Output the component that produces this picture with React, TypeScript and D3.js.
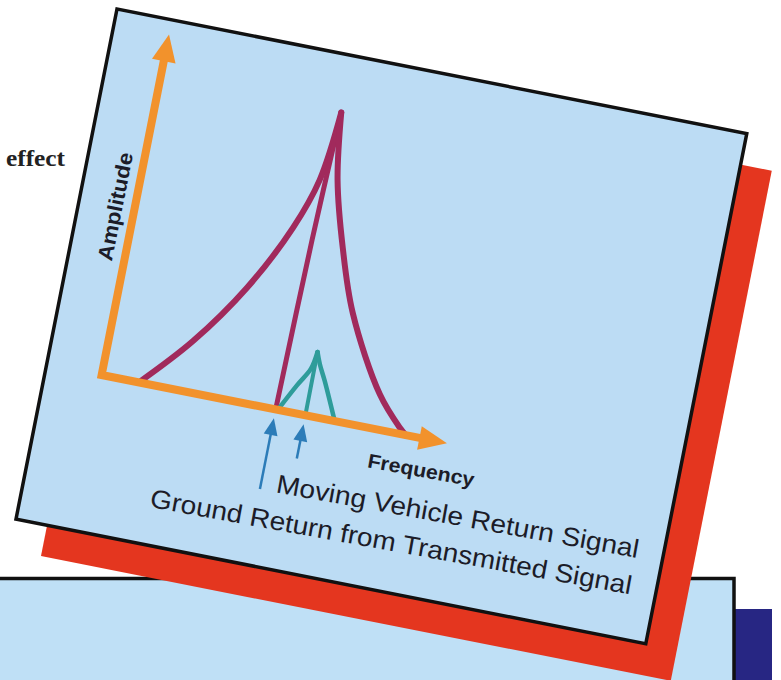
import * as d3 from "d3";

type Pt = [number, number];

// frequency / amplitude pairs (arbitrary 0..10 units)
const groundLeft: Pt[] = [[1.08, 0], [2.36, 1.47], [3.57, 3.28], [4.52, 5.23], [5.0, 6.73], [5.23, 8.76]];
const groundCentre: Pt[] = [[5.23, 8.76], [5.12, 5.0], [5.04, 0]];
const groundRight: Pt[] = [[5.23, 8.76], [5.5, 6.83], [6.02, 4.94], [6.66, 3.15], [7.86, 1.01], [8.61, 0.17], [8.81, 0]];

const vehicleLeft: Pt[] = [[5.1, 0], [5.5, 0.8], [5.8, 1.35], [5.89, 1.86]];
const vehicleCentre: Pt[] = [[5.89, 1.86], [5.9, 0]];
const vehicleRight: Pt[] = [[5.89, 1.86], [6.02, 1.53], [6.25, 1.08], [6.75, 0]];

// ground return and moving vehicle frequencies marked by the blue arrows
const markerFreqs = [5.04, 5.9];
const markerLabels = ["Ground Return from Transmitted Signal", "Moving Vehicle Return Signal"];

const axisLabels = { x: "Frequency", y: "Amplitude" };

const W = 781;
const H = 680;
const PANEL_W = 642;
const PANEL_H = 520;
const TILT = 11.2;

const ORANGE = "#f2922c";
const PURPLE = "#a12a5c";
const TEAL = "#2e9c9a";
const BLUE = "#2c7cb8";
const SKY = "#bcdcf4";
const INK = "#1c1c28";

export default function App() {
  const x = d3.scaleLinear().domain([0, 10]).range([56, 408]);
  const y = d3.scaleLinear().domain([0, 10]).range([362, 15]);

  const line = d3
    .line<Pt>()
    .x(d => x(d[0]))
    .y(d => y(d[1]))
    .curve(d3.curveCatmullRom.alpha(0.5));

  const x0 = x(0), y0 = y(0), xEnd = x(10), yEnd = y(10);
  const tipV = y0 + 9;
  const tails = [72, 35];

  return (
    <svg
      width={W}
      height={H}
      style={{ position: "absolute", left: 0, top: 0, background: "#fff" }}
    >
      {/* back cards */}
      <rect x={730} y={609} width={42} height={80} fill="#272683" />
      <rect x={-10} y={578.5} width={744} height={120} fill="#bfe0f6" stroke="#111" strokeWidth={3.5} />
      <g transform={`translate(${117 + 25},${9 + 37}) rotate(${TILT})`}>
        <rect width={PANEL_W} height={PANEL_H} fill="#e4361f" />
      </g>

      <text
        x={6}
        y={166}
        fontFamily="'Liberation Serif', 'DejaVu Serif', serif"
        fontWeight="bold"
        fontSize={24}
        textLength={59}
        lengthAdjust="spacingAndGlyphs"
        fill="#222"
      >
        effect
      </text>

      {/* main card */}
      <g transform={`translate(117,9) rotate(${TILT})`}>
        <rect width={PANEL_W} height={PANEL_H} fill={SKY} stroke="#111" strokeWidth={3.5} />

        <g fill="none" strokeLinecap="round" strokeLinejoin="round">
          <path d={line(groundLeft) ?? ""} stroke={PURPLE} strokeWidth={6} />
          <path d={line(groundCentre) ?? ""} stroke={PURPLE} strokeWidth={5} />
          <path d={line(groundRight) ?? ""} stroke={PURPLE} strokeWidth={6} />
          <path d={line(vehicleLeft) ?? ""} stroke={TEAL} strokeWidth={4.5} />
          <path d={line(vehicleCentre) ?? ""} stroke={TEAL} strokeWidth={4} />
          <path d={line(vehicleRight) ?? ""} stroke={TEAL} strokeWidth={4.5} />
        </g>

        {/* axes */}
        <path
          d={`M${x0},${yEnd + 24}L${x0},${y0}L${xEnd - 24},${y0}`}
          fill="none"
          stroke={ORANGE}
          strokeWidth={8}
          strokeLinejoin="miter"
        />
        <polygon
          points={`${x0},${yEnd} ${x0 - 12},${yEnd + 27} ${x0 + 12},${yEnd + 27}`}
          fill={ORANGE}
        />
        <polygon
          points={`${xEnd},${y0} ${xEnd - 28},${y0 - 12} ${xEnd - 28},${y0 + 12}`}
          fill={ORANGE}
        />

        {/* markers */}
        {markerFreqs.map((f, i) => (
          <g key={f}>
            <line x1={x(f)} x2={x(f)} y1={tipV + 14} y2={tipV + tails[i]} stroke={BLUE} strokeWidth={2.5} />
            <polygon
              points={`${x(f)},${tipV} ${x(f) - 7},${tipV + 17} ${x(f) + 7},${tipV + 17}`}
              fill={BLUE}
            />
          </g>
        ))}

        <text
          transform={`translate(44,194) rotate(-90)`}
          textAnchor="middle"
          fontFamily="'Liberation Sans', Arial, sans-serif"
          fontWeight="bold"
          fontSize={21}
          textLength={110}
          lengthAdjust="spacingAndGlyphs"
          fill={INK}
        >
          {axisLabels.y}
        </text>

        <g fontFamily="'Liberation Sans', Arial, sans-serif" fill={INK}>
          <text
            x={334}
            y={401}
            fontWeight="bold"
            fontSize={20}
            textLength={108}
            lengthAdjust="spacingAndGlyphs"
            transform="rotate(-0.9,334,401)"
          >
            {axisLabels.x}
          </text>
          <text
            x={617}
            y={437.5}
            textAnchor="end"
            fontSize={26}
            textLength={368}
            lengthAdjust="spacingAndGlyphs"
            transform="rotate(-0.9,617,437.5)"
          >
            {markerLabels[1]}
          </text>
          <text
            x={617}
            y={474.5}
            textAnchor="end"
            fontSize={26}
            textLength={489}
            lengthAdjust="spacingAndGlyphs"
            transform="rotate(-0.9,617,474.5)"
          >
            {markerLabels[0]}
          </text>
        </g>
      </g>
    </svg>
  );
}
